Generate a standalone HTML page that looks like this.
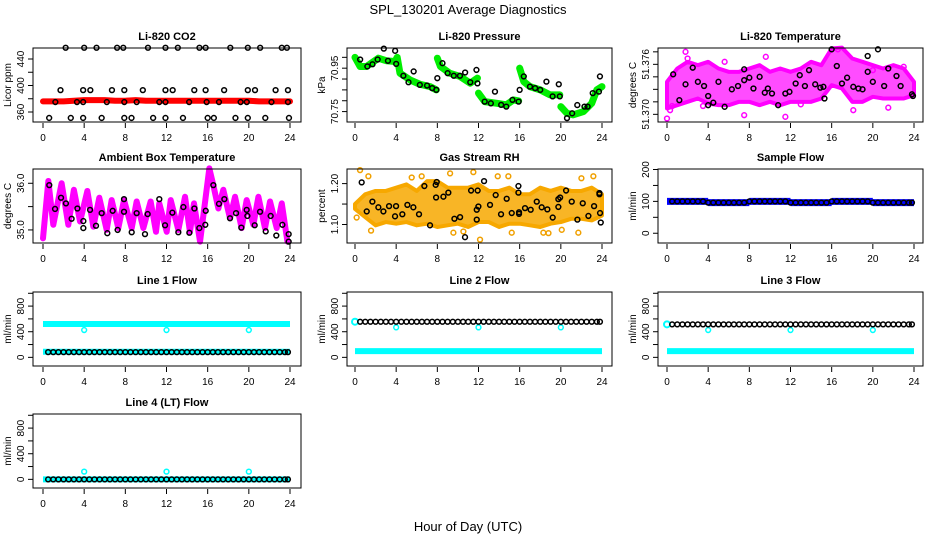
<!DOCTYPE html>
<html><head><meta charset="utf-8">
<style>
html,body{margin:0;padding:0;background:#fff;}
svg{display:block;font-family:"Liberation Sans",Arial,sans-serif;}
</style></head>
<body>
<svg id="chart" width="936" height="540" viewBox="0 0 936 540" xmlns="http://www.w3.org/2000/svg">
<text x="468" y="14" text-anchor="middle" font-size="13">SPL_130201  Average Diagnostics</text>
<text x="468" y="531" text-anchor="middle" font-size="13">Hour of Day (UTC)</text>
</svg>
<script>
// ---- data ----
const xTicks = [0,4,8,12,16,20,24];
// CO2
const co2RedHours = [0,1,2,3,4,5,6,7,8,9,10,11,12,13,14,15,16,17,18,19,20,21,22,23,24];
const co2RedVals = [376,376,376,377,378,378,378,377,377,378,377,377,377,377,377,377,377,377,377,377,377,376,376,376,376];
const co2BlackHours = [2.2,4.0,5.2,7.2,7.8,10.2,11.9,13.1,15.2,15.8,18.2,19.9,21.1,23.2,23.7, 1.7,3.9,4.6,6.7,7.9,9.7,11.9,12.6,14.7,15.8,17.6,19.9,20.6,22.6,23.8, 0.6,2.7,3.9,5.7,7.9,8.6,10.7,11.9,13.6,16.0,16.6,18.7,19.9,21.6,23.9, 1.2,3.3,3.9,6.2,7.9,9.1,11.3,11.9,14.2,15.9,17.1,19.2,19.8,22.2,23.8];
const co2BlackVals = [457,457,457,457,457,457,457,457,457,457,457,457,457,457,457, 393,393,393,393,393,393,393,393,393,393,393,393,393,393,393, 351,351,351,351,351,351,351,351,351,351,351,351,351,351,351, 375,375,375,375,375,375,375,375,375,375,375,375,375,375,375];
// Pressure
const presGreenHours = [0,0.49,1.13,2.27,3.08,3.89,4.1,4.37,5.35,6.3,7.3,7.9,null,8.0,8.3,9.2,10.2,11.2,11.9,null,12.0,12.6,13.8,14.7,15.4,15.9,null,16.0,16.4,17.0,18.0,18.95,19.9,null,20.0,20.6,21.2,22.2,23.0,23.5,24];
const presGreenVals = [71.0,70.958,70.958,70.996,70.984,70.981,71.0,70.927,70.896,70.876,70.865,70.85,null,70.996,70.958,70.927,70.912,70.881,70.904,null,70.835,70.796,70.788,70.781,70.804,70.799,null,70.95,70.888,70.865,70.85,70.827,70.827,null,70.773,70.742,70.735,70.75,70.788,70.85,70.865];
const presBlackHours = [0.5,1.2,1.7,2.2,2.8,3.2,3.9,4.0,4.7,5.2,5.7,6.3,7.0,7.5,7.9,8.0,8.5,9.0,9.6,10.2,10.7,11.2,11.8,11.9,12.6,13.2,13.6,14.2,14.7,15.3,15.9,16.0,16.4,17.0,17.5,18.0,18.6,19.2,19.8,19.9,20.6,21.1,21.6,22.3,22.6,23.1,23.7,23.8];
const presBlackVals = [70.99,70.958,70.968,70.99,71.04,70.984,71.03,70.97,70.915,70.885,70.935,70.873,70.87,70.858,70.85,70.904,70.973,70.927,70.915,70.915,70.93,70.885,70.942,70.88,70.796,70.788,70.842,70.781,70.773,70.804,70.796,70.85,70.912,70.865,70.858,70.85,70.888,70.82,70.876,70.82,70.72,70.742,70.78,70.773,70.773,70.835,70.842,70.912];
// Li-820 temperature
const tempBandHours = [0,1,2,3,4,5,6,7,8,9,10,11,12,13,14,15,16,17,18,19,20,21,22,23,24];
const tempBandHi = [51.3739,51.3755,51.3763,51.3759,51.3763,51.3755,51.3751,51.3751,51.3755,51.3759,51.3751,51.3755,51.3751,51.3755,51.3763,51.3759,51.3779,51.3780,51.3767,51.3763,51.3759,51.3755,51.3759,51.3755,51.3739];
const tempBandLo = [51.3707,51.3711,51.3715,51.3719,51.3713,51.3711,51.3711,51.3715,51.3715,51.3711,51.3715,51.3711,51.3715,51.3715,51.3715,51.3719,51.3735,51.3731,51.3715,51.3715,51.3721,51.3719,51.3719,51.3719,51.3723];
const tempMagHours = [0,0.3,1.8,2.0,5.6,7.5,11.5,9.6,16.6,20.0,23.0,18.1,0.5,3.5,13.0,21.5];
const tempMagVals = [51.3695,51.3705,51.3775,51.3767,51.3763,51.3699,51.3697,51.3769,51.3778,51.3753,51.3757,51.3705,51.3710,51.3710,51.3712,51.3708];
const tempBlackHours = [0.6,1.2,1.8,2.5,3.0,3.6,4.0,4.0,4.5,5.0,5.6,6.3,6.9,7.5,7.5,8.0,8.4,9.0,9.5,9.8,10.2,10.8,11.5,11.9,12.5,12.9,13.4,13.8,14.4,14.9,15.2,15.3,16.0,16.5,17.0,17.5,18.1,18.6,19.0,19.5,19.5,20.0,20.5,21.1,21.5,22.3,22.7,23.8,23.9];
const tempBlackVals = [51.3748,51.3717,51.3736,51.3756,51.3739,51.3734,51.3711,51.3722,51.3714,51.3739,51.3709,51.3730,51.3734,51.3754,51.3741,51.3744,51.3731,51.3745,51.3726,51.3731,51.3725,51.3711,51.3725,51.3727,51.3737,51.3747,51.3734,51.3753,51.3736,51.3732,51.3733,51.3719,51.3778,51.3758,51.3737,51.3744,51.3733,51.3731,51.3730,51.3770,51.3751,51.3739,51.3778,51.3734,51.3755,51.3746,51.3734,51.3724,51.3722];
// Ambient box temperature
const ambMagHours = [0.0,0.52,1.0,1.81,2.46,3.0,3.6,4.31,4.89,5.47,6.19,6.67,7.32,7.87,8.62,9.1,9.75,10.46,10.98,11.3,12.02,12.41,13.15,13.8,14.28,14.67,15.26,16.16,16.55,17.04,17.52,18.17,18.66,19.3,19.79,20.44,20.93,21.57,22.06,22.71,23.2,23.75];
const ambMagVals = [34.82,36.05,35.11,36.0,35.11,35.86,35.18,35.835,35.07,35.69,35.0,35.64,35.04,35.64,35.04,35.61,35.04,35.61,34.96,35.57,34.96,35.64,35.0,35.71,34.96,35.57,34.75,36.32,35.96,35.46,35.86,35.25,35.71,35.04,35.64,35.11,35.71,35.04,35.61,35.04,35.57,34.75];
const ambBlackHours = [0.61,1.17,1.75,2.23,2.78,3.34,3.92,3.92,4.57,5.15,5.7,6.25,6.77,7.25,7.87,7.87,8.62,9.1,9.91,10.17,11.3,11.86,12.57,13.15,13.64,14.22,14.71,15.19,15.81,15.77,16.55,17.1,17.62,18.17,18.76,19.27,19.79,19.86,20.57,21.09,21.64,22.12,22.67,23.26,23.87,23.87];
const ambBlackVals = [35.96,35.45,35.69,35.57,35.24,35.46,35.04,35.19,35.43,35.09,35.36,34.93,35.41,35.0,35.66,35.39,34.95,35.36,34.91,35.34,35.66,35.1,35.37,34.95,35.49,34.94,35.46,35.04,35.41,35.11,35.96,35.56,35.66,35.25,35.36,35.05,35.43,35.3,35.1,35.39,34.97,35.3,34.88,35.11,34.91,34.75];
// Gas stream RH
const rhBandHours = [0,1,2,3,4,5,6,7,8,9,10,11,12,13,14,15,16,17,18,19,20,21,22,23,24];
const rhBandHi = [1.150,1.174,1.182,1.182,1.190,1.198,1.182,1.206,1.206,1.190,1.190,1.190,1.198,1.182,1.182,1.190,1.174,1.174,1.190,1.182,1.190,1.182,1.182,1.190,1.174];
const rhBandLo = [1.138,1.118,1.098,1.106,1.102,1.106,1.098,1.102,1.094,1.098,1.102,1.094,1.106,1.106,1.094,1.102,1.102,1.098,1.094,1.102,1.106,1.114,1.114,1.110,1.122];
const rhOrangeHours = [0.49,1.3,1.56,5.51,6.48,9.24,9.56,10.53,11.5,12.15,13.87,14.9,15.23,18.3,18.8,20.09,22.0,21.7,23.16,0.16];
const rhOrangeVals = [1.233,1.218,1.085,1.215,1.218,1.225,1.080,1.083,1.228,1.063,1.218,1.218,1.080,1.080,1.079,1.087,1.213,1.080,1.218,1.117];
const rhBlackHours = [0.65,1.14,1.69,2.27,2.76,3.31,3.89,3.99,4.6,5.09,5.67,6.22,6.74,7.29,7.84,7.94,7.88,8.59,9.07,9.66,10.21,10.69,11.28,11.83,11.83,11.92,11.99,12.54,13.12,13.67,14.19,14.74,15.23,15.88,15.88,15.94,15.94,16.52,17.07,17.66,18.14,18.69,19.21,19.76,19.76,19.93,20.51,21.06,21.61,22.13,22.68,23.23,23.75,23.75,23.81,23.88];
const rhBlackVals = [1.203,1.132,1.156,1.142,1.132,1.145,1.120,1.145,1.125,1.148,1.142,1.125,1.194,1.098,1.197,1.204,1.166,1.168,1.178,1.114,1.118,1.069,1.183,1.112,1.136,1.183,1.144,1.206,1.148,1.172,1.125,1.163,1.128,1.194,1.178,1.126,1.130,1.140,1.136,1.156,1.142,1.137,1.117,1.162,1.143,1.166,1.183,1.156,1.112,1.152,1.121,1.145,1.177,1.174,1.128,1.105];
// Flows
const flowHours = [0.5,1,1.5,2,2.5,3,3.5,4,4.5,5,5.5,6,6.5,7,7.5,8,8.5,9,9.5,10,10.5,11,11.5,12,12.5,13,13.5,14,14.5,15,15.5,16,16.5,17,17.5,18,18.5,19,19.5,20,20.5,21,21.5,22,22.5,23,23.5,23.8];
const sampleBlack = [100,100,100,100,100,100,100,96,96,96,96,96,96,96,96,100,100,100,100,100,100,100,100,96,96,96,96,96,96,96,96,100,100,100,100,100,100,100,100,96,96,96,96,96,96,96,96,96];
const sampleBlockStart = [0,4,8,12,16,20];
const sampleBlockEnd = [4,8,12,16,20,24];
const sampleBlockVal = [100,96,100,96,100,96];
const line1Black = [82,82,82,82,82,82,82,82,82,82,82,82,82,82,82,82,82,82,82,82,82,82,82,82,82,82,82,82,82,82,82,82,82,82,82,82,82,82,82,82,82,82,82,82,82,82,82,82];
const line1CyanHigh = 520, line1CyanLow = 88, line1Dip = 426;
const line2Black = [556,556,556,556,556,556,556,556,556,556,556,556,556,556,556,556,556,556,556,556,556,556,556,556,556,556,556,556,556,556,556,556,556,556,556,556,556,556,556,556,556,556,556,556,556,556,556,556];
const line2CyanStart = 556, line2CyanLow = 98, line2Dip = 468;
const line3Black = [515,515,515,515,515,515,515,515,515,515,515,515,515,515,515,515,515,515,515,515,515,515,515,515,515,515,515,515,515,515,515,515,515,515,515,515,515,515,515,515,515,515,515,515,515,515,515,515];
const line3CyanStart = 515, line3CyanLow = 98, line3Dip = 426;
const line4Black = [0,0,0,0,0,0,0,0,0,0,0,0,0,0,0,0,0,0,0,0,0,0,0,0,0,0,0,0,0,0,0,0,0,0,0,0,0,0,0,0,0,0,0,0,0,0,0,0];
const line4CyanBase = 0, line4Spike = 120;
const dipHours = [4,12,20];

// ---- layout ----
const NS = 'http://www.w3.org/2000/svg';
const svg = document.getElementById('chart');
const cols = [{l:33,r:301,x0:43,x1:290},{l:347,r:612,x0:355,x1:602},{l:658,r:923,x0:667,x1:914}];
const rowTop = [48,169,292,414], PH = 74;

function el(tag, attrs, parent){
  const e = document.createElementNS(NS, tag);
  for (const k in attrs) e.setAttribute(k, attrs[k]);
  (parent||svg).appendChild(e);
  return e;
}

function panel(cfg){
  const c = cols[cfg.col], top = rowTop[cfg.row], bot = top+PH;
  const g = el('g', {});
  
  
  const sx = h => c.x0 + (h/24)*(c.x1-c.x0);
  const sy = v => bot - (v-cfg.ymin)/(cfg.ymax-cfg.ymin)*PH;
  const t = el('text', {x:(c.l+c.r)/2, y:top-8, 'text-anchor':'middle', 'font-size':'11', 'font-weight':'bold'}, g);
  t.textContent = cfg.title;
  
  
  const xa = el('g', {}, g);
  
  
  xTicks.forEach(v=>{
    el('line', {x1:sx(v), x2:sx(v), y1:bot+1, y2:bot+6, stroke:'#000', 'stroke-width':1}, xa);
    const tl = el('text', {x:sx(v), y:bot+19, 'text-anchor':'middle', 'font-size':'10'}, xa);
    tl.textContent = v;
  });
  const ya = el('g', {}, g);
  
  
  cfg.ticks.forEach(v=>{
    el('line', {x1:c.l-5, x2:c.l, y1:sy(v), y2:sy(v), stroke:'#000', 'stroke-width':1}, ya);
  });
  cfg.labels.forEach(v=>{
    const yy = sy(v), xx = c.l-9;
    const tl = el('text', {x:xx, y:yy, 'text-anchor':'middle', 'font-size':'10', transform:`rotate(-90 ${xx} ${yy})`}, ya);
    tl.textContent = cfg.fmt ? cfg.fmt(v) : v;
  });
  const yt = el('text', {x:c.l-22, y:(top+bot)/2, 'text-anchor':'middle', 'font-size':'10', transform:`rotate(-90 ${c.l-22} ${(top+bot)/2})`}, g);
  yt.textContent = cfg.ylab;
  
  
  const plot = el('g', {}, g);
  cfg.draw(plot, sx, sy);
  el('rect', {x:c.l, y:top, width:c.r-c.l, height:PH, fill:'none', stroke:'#000', 'stroke-width':1}, g);
}

function pts(g, hs, vs, color, name, sx, sy, r, sw){
  const gg = el('g', {}, g);
  
  
  hs.forEach((h,i)=>{
    const c = el('circle', {cx:sx(h), cy:sy(vs[i]), r:r||2.4, fill:'none', stroke:color, 'stroke-width':sw||1.5}, gg);
    
    
  });
}
function polyline(g, hs, vs, color, w, name, sx, sy){
  let seg = [];
  const flush = ()=>{
    if (seg.length){
      const p = el('polyline', {points:seg.join(' '), fill:'none', stroke:color, 'stroke-width':w, 'stroke-linejoin':'round', 'stroke-linecap':'round'}, g);
      
      
    }
    seg = [];
  };
  hs.forEach((h,i)=>{ if (h===null || vs[i]===null) flush(); else seg.push(sx(h)+','+sy(vs[i])); });
  flush();
}
function band(g, hs, lo, hi, color, op, name, sx, sy){
  const up = hs.map((h,i)=>sx(h)+','+sy(hi[i]));
  const dn = hs.map((h,i)=>sx(h)+','+sy(lo[i])).reverse();
  const p = el('polygon', {points:up.concat(dn).join(' '), fill:color, 'fill-opacity':op, stroke:color, 'stroke-width':4, 'stroke-linejoin':'round'}, g);
  
  
}

panel({name:'panel-co2', col:0, row:0, title:'Li-820 CO2', ylab:'Licor ppm', ymin:344.9, ymax:456.6,
  ticks:[360,380,400,420,440], labels:[360,400,440],
  draw:(g,sx,sy)=>{
    polyline(g, co2RedHours, co2RedVals, '#ff0000', 6, 'co2-red-series', sx, sy);
    pts(g, co2BlackHours, co2BlackVals, '#000', 'co2-black-series', sx, sy);
  }});
panel({name:'panel-pressure', col:1, row:0, title:'Li-820 Pressure', ylab:'kPa', ymin:70.702, ymax:71.043,
  ticks:[70.75,70.80,70.85,70.90,70.95,71.00], labels:[70.75,70.95], fmt:v=>v.toFixed(2),
  draw:(g,sx,sy)=>{
    polyline(g, presGreenHours, presGreenVals, '#00ee00', 7, 'pressure-green-series', sx, sy);
    pts(g, presBlackHours, presBlackVals, '#000', 'pressure-black-series', sx, sy);
  }});
panel({name:'panel-li820-temp', col:2, row:0, title:'Li-820 Temperature', ylab:'degrees C', ymin:51.36908, ymax:51.37796,
  ticks:[51.370,51.3715,51.373,51.3745,51.376,51.3775], labels:[51.370,51.376], fmt:v=>v.toFixed(3),
  draw:(g,sx,sy)=>{
    band(g, tempBandHours, tempBandLo, tempBandHi, '#ff00ff', 0.7, 'temp-magenta-band', sx, sy);
    pts(g, tempMagHours, tempMagVals, '#ff00ff', 'temp-magenta-series', sx, sy);
    pts(g, tempBlackHours, tempBlackVals, '#000', 'temp-black-series', sx, sy);
  }});
panel({name:'panel-ambient-temp', col:0, row:1, title:'Ambient Box Temperature', ylab:'degrees C', ymin:34.72, ymax:36.306,
  ticks:[35.0,35.5,36.0], labels:[35.0,36.0], fmt:v=>v.toFixed(1),
  draw:(g,sx,sy)=>{
    polyline(g, ambMagHours, ambMagVals, '#ff00ff', 6, 'ambient-magenta-series', sx, sy);
    pts(g, ambBlackHours, ambBlackVals, '#000', 'ambient-black-series', sx, sy);
  }});
panel({name:'panel-gas-rh', col:1, row:1, title:'Gas Stream RH', ylab:'percent', ymin:1.0548, ymax:1.2357,
  ticks:[1.10,1.15,1.20], labels:[1.10,1.20], fmt:v=>v.toFixed(2),
  draw:(g,sx,sy)=>{
    band(g, rhBandHours, rhBandLo, rhBandHi, '#f7a800', 0.85, 'rh-orange-band', sx, sy);
    pts(g, rhOrangeHours, rhOrangeVals, '#f0a000', 'rh-orange-series', sx, sy);
    pts(g, rhBlackHours, rhBlackVals, '#000', 'rh-black-series', sx, sy);
  }});
panel({name:'panel-sample-flow', col:2, row:1, title:'Sample Flow', ylab:'ml/min', ymin:-30.6, ymax:201.6,
  ticks:[0,50,100,150,200], labels:[0,100,200],
  draw:(g,sx,sy)=>{
    sampleBlockStart.forEach((s,i)=>{
      const l = el('line', {x1:sx(s), x2:sx(sampleBlockEnd[i]), y1:sy(sampleBlockVal[i]), y2:sy(sampleBlockVal[i]), stroke:'#0000ff', 'stroke-width':7}, g);
      
      
    });
    pts(g, flowHours, sampleBlack, '#000', 'sample-black-series', sx, sy);
  }});
const flowCfg = {ymin:-135, ymax:1020, ticks:[0,200,400,600,800,1000], labels:[0,400,800], ylab:'ml/min'};
function hband(g, v, sx, sy, name, from){
  const l = el('line', {x1:sx(from), x2:sx(24), y1:sy(v), y2:sy(v), stroke:'#00ffff', 'stroke-width':6}, g);
  
  
}
panel(Object.assign({name:'panel-line1-flow', col:0, row:2, title:'Line 1 Flow',
  draw:(g,sx,sy)=>{
    hband(g, line1CyanHigh, sx, sy, 'line1-cyan-high', 0);
    hband(g, line1CyanLow, sx, sy, 'line1-cyan-low', 0);
    pts(g, dipHours, dipHours.map(()=>line1Dip), '#00ffff', 'line1-cyan-dips', sx, sy);
    pts(g, flowHours, line1Black, '#000', 'line1-black-series', sx, sy);
  }}, flowCfg));
panel(Object.assign({name:'panel-line2-flow', col:1, row:2, title:'Line 2 Flow',
  draw:(g,sx,sy)=>{
    hband(g, line2CyanLow, sx, sy, 'line2-cyan-low', 0);
    pts(g, [0], [line2CyanStart], '#00ffff', 'line2-cyan-start', sx, sy, 3, 2);
    pts(g, dipHours, dipHours.map(()=>line2Dip), '#00ffff', 'line2-cyan-dips', sx, sy);
    pts(g, flowHours, line2Black, '#000', 'line2-black-series', sx, sy);
  }}, flowCfg));
panel(Object.assign({name:'panel-line3-flow', col:2, row:2, title:'Line 3 Flow',
  draw:(g,sx,sy)=>{
    hband(g, line3CyanLow, sx, sy, 'line3-cyan-low', 0);
    pts(g, [0], [line3CyanStart], '#00ffff', 'line3-cyan-start', sx, sy, 3, 2);
    pts(g, dipHours, dipHours.map(()=>line3Dip), '#00ffff', 'line3-cyan-dips', sx, sy);
    pts(g, flowHours, line3Black, '#000', 'line3-black-series', sx, sy);
  }}, flowCfg));
panel(Object.assign({name:'panel-line4-flow', col:0, row:3, title:'Line 4 (LT) Flow',
  draw:(g,sx,sy)=>{
    hband(g, line4CyanBase, sx, sy, 'line4-cyan-base', 0);
    pts(g, dipHours, dipHours.map(()=>line4Spike), '#00ffff', 'line4-cyan-spikes', sx, sy);
    pts(g, flowHours, line4Black, '#000', 'line4-black-series', sx, sy);
  }}, flowCfg));
</script>
</body></html>
